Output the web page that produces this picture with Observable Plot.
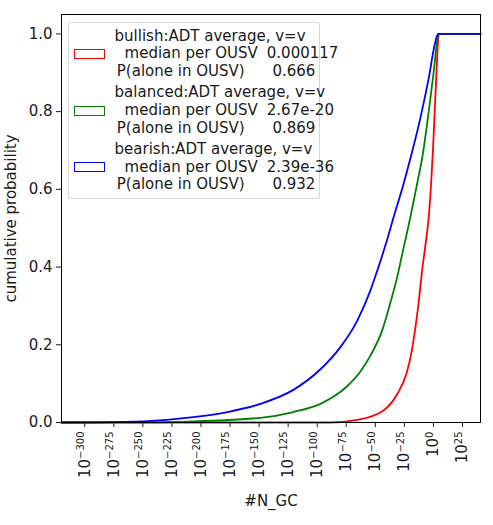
<!DOCTYPE html>
<html>
<head>
<meta charset="utf-8">
<script src="https://cdn.jsdelivr.net/npm/d3@7"></script>
<script src="https://cdn.jsdelivr.net/npm/@observablehq/plot@0.6"></script>
<style>
  body { margin: 0; background: #fff; font-family: "DejaVu Sans", sans-serif; }
  #wrap { position: relative; width: 493px; height: 525px; }
  #legend { position: absolute; left: 68px; top: 22px; width: 252px; height: 177px; box-sizing: border-box;
            border: 1px solid rgba(204,204,204,0.8); border-radius: 3px; background: rgba(255,255,255,0.8);
            font-size: 15px; color: #1a1a1a; }
  .grp { position: absolute; left: 0; width: 100%; height: 54px; }
  .handle { position: absolute; left: 5px; top: 21.7px; width: 31px; height: 10px; box-sizing: border-box; border: 1.6px solid; background: #fff; }
  .ln { position: absolute; height: 17.8px; line-height: 17.8px; white-space: pre; }
</style>
</head>
<body>
<div id="wrap"></div>
<script>
// ---- data ----
const seriesNames = ["bullish", "balanced", "bearish"];
const seriesColors = ["#ff0000", "#008000", "#0000ff"];
const medianLabels = ["0.000117", "2.67e-20", "2.39e-36"];
const aloneLabels = ["0.666", "0.869", "0.932"];

// exponent of #N_GC (log10) and cumulative probability
const bullishExp  = [-320, -89, -65.4, -43.9, -31.0, -23.2, -18.9, -15.5, -12.5, -9.9, -6.9, -4.0, -2.0, -0.4, 1.1, 2.8, 4.0, 4.6, 40.5];
const bullishProb = [0, 0, 0.007, 0.029, 0.074, 0.126, 0.180, 0.245, 0.314, 0.387, 0.456, 0.529, 0.615, 0.701, 0.802, 0.912, 0.982, 1, 1];

const balancedExp  = [-320, -243.5, -206.5, -148.9, -120.5, -97.2, -86.1, -74.0, -62.8, -54.2, -44.1, -37.0, -31.2, -25.8, -19.8, -14.0, -9.7, -4.0, 0.3, 3.2, 4.6, 40.5];
const balancedProb = [0, 0.0005, 0.003, 0.012, 0.027, 0.048, 0.066, 0.094, 0.131, 0.172, 0.237, 0.309, 0.374, 0.448, 0.529, 0.615, 0.680, 0.801, 0.904, 0.981, 1, 1];

const bearishExp  = [-320, -286.6, -249.6, -206.5, -177.3, -148.9, -120.5, -97.2, -80.0, -65.4, -54.2, -48.2, -41.3, -34.2, -25.6, -19.8, -11.2, -4.0, 1.1, 4.0, 40.5];
const bearishProb = [0, 0.0005, 0.003, 0.014, 0.027, 0.048, 0.084, 0.137, 0.194, 0.263, 0.340, 0.392, 0.456, 0.529, 0.615, 0.680, 0.784, 0.887, 0.972, 1, 1];

const xTickExps = [-300, -275, -250, -225, -200, -175, -150, -125, -100, -75, -50, -25, 0, 25];
const yTicks = [0, 0.2, 0.4, 0.6, 0.8, 1.0];

// ---- build ----
const sup = {"-": "\u207B", "0": "\u2070", "1": "\u00B9", "2": "\u00B2", "3": "\u00B3", "4": "\u2074",
             "5": "\u2075", "6": "\u2076", "7": "\u2077", "8": "\u2078", "9": "\u2079"};
const powFmt = d => "10" + String(d).split("").map(c => sup[c]).join("");

const exps = [bullishExp, balancedExp, bearishExp];
const probs = [bullishProb, balancedProb, bearishProb];
const rows = [];
seriesNames.forEach((s, i) => exps[i].forEach((e, j) => rows.push({series: s, exp: e, prob: probs[i][j]})));

const chart = Plot.plot({
  width: 493,
  height: 525,
  marginLeft: 61,
  marginRight: 13,
  marginTop: 14,
  marginBottom: 103,
  style: {fontFamily: "DejaVu Sans, sans-serif", fontSize: "15px", color: "#1a1a1a", background: "white"},
  x: {domain: [-320, 40.5], ticks: xTickExps, tickFormat: powFmt, tickRotate: -90, tickSize: 5, tickPadding: 4,
      label: "#N_GC", labelAnchor: "center", labelArrow: "none", labelOffset: 83},
  y: {domain: [0, 1.05], ticks: yTicks, tickFormat: d3.format(".1f"), tickSize: 5, tickPadding: 4,
      label: "cumulative probability", labelAnchor: "center", labelArrow: "none", labelOffset: 56},
  color: {domain: seriesNames, range: seriesColors},
  marks: [
    ...seriesNames.map(s => Plot.line(rows.filter(r => r.series === s), {x: "exp", y: "prob", stroke: "series", strokeWidth: 1.8, curve: "monotone-x"})),
    Plot.frame({stroke: "#000", strokeWidth: 1})
  ]
});
const wrap = document.getElementById("wrap");
wrap.appendChild(chart);

// render x tick labels as 10 with a raised, smaller exponent (like mathtext)
const svgNS = "http://www.w3.org/2000/svg";
const xLabelGroup = chart.querySelector('g[aria-label="x-axis tick label"]');
if (xLabelGroup) {
  xLabelGroup.querySelectorAll("text").forEach((t, k) => {
    const e = xTickExps[k];
    if (e === undefined) return;
    t.textContent = "10";
    const ts = document.createElementNS(svgNS, "tspan");
    ts.setAttribute("font-size", "10px");
    ts.setAttribute("dy", "-5.5");
    ts.textContent = String(e).replace("-", "\u2212");
    t.appendChild(ts);
  });
}

// legend
const leg = document.createElement("div");
leg.id = "legend";
seriesNames.forEach((s, i) => {
  const g = document.createElement("div");
  g.className = "grp";
  g.style.top = (4.6 + 56.6 * i) + "px";
  const h = document.createElement("div");
  h.className = "handle";
  h.style.borderColor = seriesColors[i];
  g.appendChild(h);
  const lines = [
    [s + ":ADT average, v=v", 45.6, 0],
    ["median per OUSV", 55.6, 1],
    [medianLabels[i], 197.8, 1],
    ["P(alone in OUSV)", 47.8, 2],
    [aloneLabels[i], 203.4, 2]
  ];
  lines.forEach(([t, x, row]) => {
    const d = document.createElement("div");
    d.className = "ln";
    d.textContent = t;
    d.style.left = x + "px";
    d.style.top = (row * 17.8) + "px";
    g.appendChild(d);
  });
  leg.appendChild(g);
});
wrap.appendChild(leg);
</script>
</body>
</html>
